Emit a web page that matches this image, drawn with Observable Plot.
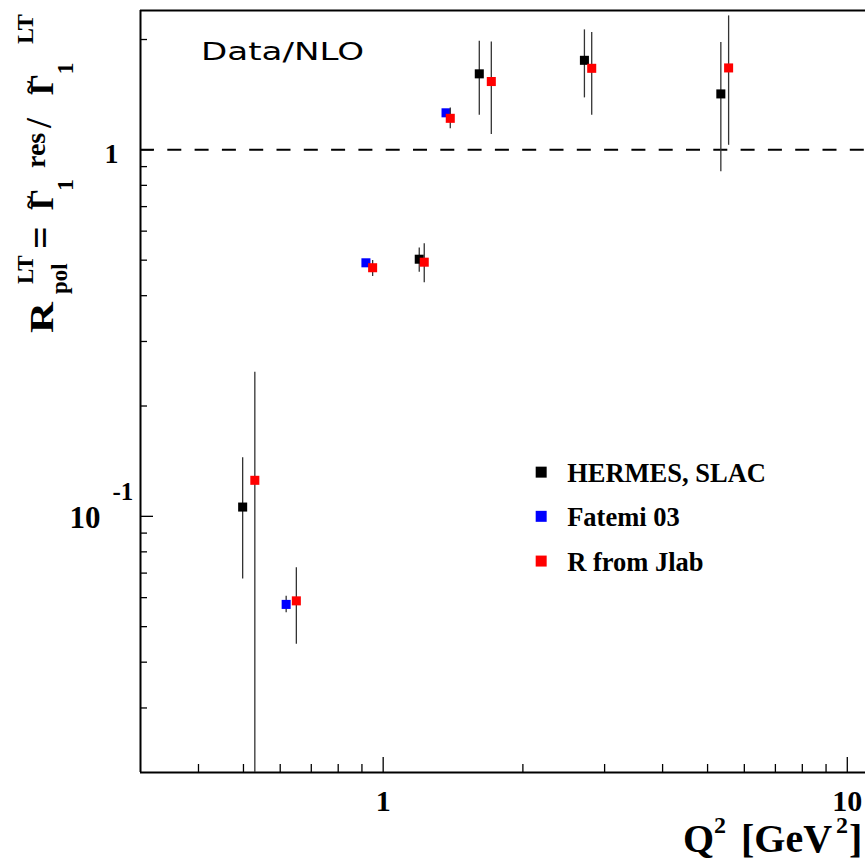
<!DOCTYPE html>
<html>
<head>
<meta charset="utf-8">
<script src="https://cdn.jsdelivr.net/npm/d3@7"></script>
<script src="https://cdn.jsdelivr.net/npm/@observablehq/plot@0.6"></script>
<style>
  body { margin: 0; background: #fff; }
  svg { display: block; }
</style>
</head>
<body>
<div id="chart"></div>
<script>
// Ratio of the resonance-region integral to the NLO leading-twist value,
// as a function of Q^2, for three extractions.
const seriesNames = ["HERMES, SLAC", "Fatemi 03", "R from Jlab"];
const seriesColors = ["#000000", "#0000ff", "#ff0000"];

const hermesQ2 = [0.498, 1.196, 1.611, 2.714, 5.34];
const hermesR  = [0.106, 0.503, 1.612, 1.755, 1.421];
const hermesLo = [0.0675, 0.4637, 1.243, 1.386, 0.871];
const hermesHi = [0.1446, 0.540, 1.978, 2.125, 1.962];

const fatemiQ2 = [0.618, 0.918, 1.366];
const fatemiR  = [0.0575, 0.4918, 1.262];
const fatemiLo = [0.0546, 0.487, 1.25];
const fatemiHi = [0.0605, 0.497, 1.275];

const jlabQ2 = [0.529, 0.650, 0.949, 1.226, 1.395, 1.710, 2.814, 5.55];
const jlabR  = [0.1254, 0.0588, 0.4768, 0.4937, 1.219, 1.536, 1.669, 1.673];
const jlabLo = [0.005, 0.0448, 0.4513, 0.4338, 1.141, 1.101, 1.243, 1.029];
const jlabHi = [0.2474, 0.0724, 0.499, 0.554, 1.30, 1.970, 2.089, 2.320];

// Axis extents and tick values
const xDomain = [0.3, 11];
const yDomain = [0.02, 2.4];
const xMajor = [1, 10];
const xMinor = [0.4, 0.5, 0.6, 0.7, 0.8, 0.9, 2, 3, 4, 5, 6, 7, 8, 9];
const yMajor = [0.1, 1];
const yMinor = [0.03, 0.04, 0.05, 0.06, 0.07, 0.08, 0.09, 0.2, 0.3, 0.4, 0.5, 0.6, 0.7, 0.8, 0.9, 2];
const referenceLine = [1];

const rows = (q2, r, lo, hi) => q2.map((q, i) => ({q2: q, r: r[i], lo: lo[i], hi: hi[i]}));
const series = [
  rows(hermesQ2, hermesR, hermesLo, hermesHi),
  rows(fatemiQ2, fatemiR, fatemiLo, fatemiHi),
  rows(jlabQ2, jlabR, jlabLo, jlabHi)
];

// Legend placement in data coordinates (inside the frame)
const legendQ2 = 2.19;
const legendR = [0.132, 0.1, 0.0755];
const legend = seriesNames.map((name, i) => ({name, color: seriesColors[i], r: legendR[i]}));

const serif = "'Liberation Serif', 'Times New Roman', serif";
const W = 865, H = 861;
const frameH = H - 10 - 89, frameW = W - 140;

const marks = [
  Plot.ruleY(referenceLine, {y: d => d, stroke: "#000", strokeWidth: 2, strokeDasharray: "14,13.3"}),
  Plot.tickX(xMinor, {x: d => d, insetTop: frameH - 8, stroke: "#000", strokeWidth: 1.3}),
  Plot.tickX(xMajor, {x: d => d, insetTop: frameH - 15, stroke: "#000", strokeWidth: 1.3}),
  Plot.tickY(yMinor, {y: d => d, insetRight: frameW - 7, stroke: "#000", strokeWidth: 1.3}),
  Plot.tickY(yMajor, {y: d => d, insetRight: frameW - 13, stroke: "#000", strokeWidth: 1.3}),
  Plot.ruleY([yDomain[1]], {y: d => d, stroke: "#000", strokeWidth: 2}),
  Plot.ruleY([yDomain[0]], {y: d => d, stroke: "#000", strokeWidth: 2}),
  Plot.ruleX([xDomain[0]], {x: d => d, stroke: "#000", strokeWidth: 2})
];

series.forEach((data, i) => {
  marks.push(Plot.ruleX(data, {x: "q2", y1: "lo", y2: "hi", stroke: "#333", strokeWidth: 1.3, clip: true}));
  marks.push(Plot.dot(data, {x: "q2", y: "r", symbol: "square", r: 5.1, fill: seriesColors[i], stroke: "none"}));
});

legend.forEach(d => {
  marks.push(Plot.dot([d], {x: () => legendQ2, y: "r", symbol: "square", r: 6.2, fill: d.color, stroke: "none"}));
  marks.push(Plot.text([d], {x: () => legendQ2, y: "r", text: "name", textAnchor: "start", lineAnchor: "middle",
    dx: 26, dy: 1, fontSize: 26.5, fontWeight: "bold", fontFamily: serif, fill: "#000"}));
});

// Tick labels
marks.push(Plot.text(xMajor, {x: d => d, text: d => String(d), frameAnchor: "bottom", lineAnchor: "bottom",
  dy: 38, fontSize: 30, fontWeight: "bold", fontFamily: serif, fill: "#000"}));
marks.push(Plot.text([1], {y: d => d, text: () => "1", frameAnchor: "left", lineAnchor: "bottom",
  dx: -36, dy: 13, fontSize: 28, fontWeight: "bold", fontFamily: serif, fill: "#000"}));
marks.push(Plot.text([0.1], {y: d => d, text: () => "10", frameAnchor: "left", lineAnchor: "bottom", textAnchor: "end",
  dx: -40, dy: 11.7, fontSize: 31, fontWeight: "bold", fontFamily: serif, fill: "#000"}));
marks.push(Plot.text([0.1], {y: d => d, text: () => "-1", frameAnchor: "left", lineAnchor: "bottom", textAnchor: "start",
  dx: -28, dy: -16, fontSize: 25, fontWeight: "bold", fontFamily: serif, fill: "#000"}));

const chart = Plot.plot({
  width: W, height: H,
  marginLeft: 140, marginRight: 0, marginTop: 10, marginBottom: 89,
  x: {type: "log", domain: xDomain, range: [140, 866], axis: null},
  y: {type: "log", domain: yDomain, axis: null},
  style: {background: "#fff", overflow: "hidden"},
  marks
});

const svg = d3.select(chart);

// Panel caption
svg.append("text").attr("x", 201).attr("y", 60).attr("text-anchor", "start")
  .attr("font-family", "'DejaVu Sans', sans-serif").attr("font-size", 24)
  .attr("textLength", 163).attr("lengthAdjust", "spacingAndGlyphs")
  .attr("fill", "#000").text("Data/NLO");

// x-axis title: Q^2 [GeV^2]
const xt = svg.append("g").attr("font-family", serif).attr("font-weight", "bold")
  .attr("fill", "#000").attr("text-anchor", "start");
xt.append("text").attr("x", 683).attr("y", 852).attr("font-size", 40).text("Q");
xt.append("text").attr("x", 714).attr("y", 833).attr("font-size", 24).text("2");
xt.append("text").attr("x", 741).attr("y", 852).attr("font-size", 40).text("[GeV");
xt.append("text").attr("x", 836).attr("y", 833).attr("font-size", 24).text("2");
xt.append("text").attr("x", 849).attr("y", 852).attr("font-size", 40).text("]");

// y-axis title, rotated: R_pol^LT = ~Γ_1^res / ~Γ_1^LT
const yt = svg.append("g").attr("font-family", serif).attr("font-weight", "bold")
  .attr("fill", "#000").attr("text-anchor", "start");
function vtext(str, sx, sy, size, len) {
  const t = yt.append("text").attr("transform", `translate(${sx},${sy}) rotate(-90)`)
    .attr("font-size", size).text(str);
  if (len) t.attr("textLength", len).attr("lengthAdjust", "spacingAndGlyphs");
  return t;
}
vtext("R", 53.3, 333, 33, 31);
vtext("LT", 33, 284, 23);
vtext("pol", 67, 294, 23);
vtext("=", 54, 249, 40);
vtext("Γ", 53.3, 210, 33);
vtext("~", 38, 209, 26);
vtext("1", 73, 191, 24);
vtext("res", 45, 168, 28);
vtext("/", 51, 128, 36);
vtext("Γ", 53.3, 95, 33);
vtext("~", 38, 94, 26);
vtext("1", 73, 74.5, 24);
vtext("LT", 33, 44, 24);

document.getElementById("chart").appendChild(chart);
</script>
</body>
</html>
